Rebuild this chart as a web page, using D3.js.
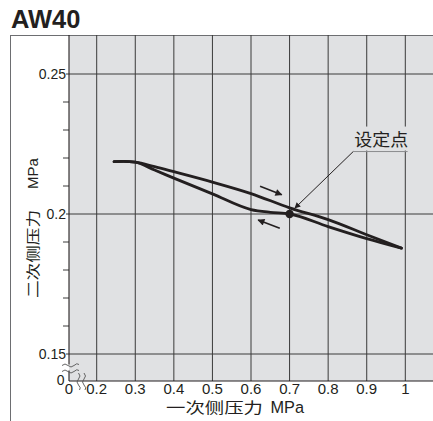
<!DOCTYPE html>
<html><head><meta charset="utf-8">
<script src="https://cdn.jsdelivr.net/npm/d3@7"></script>
<style>
html,body{margin:0;padding:0;background:#fff;}
svg{display:block;}
text{font-family:"Liberation Sans","Noto Sans CJK SC",Arial,sans-serif;fill:#231f20;}
</style></head>
<body>
<script>
// ---- data ----
const title = "AW40";
const xTicks = [0, 0.2, 0.3, 0.4, 0.5, 0.6, 0.7, 0.8, 0.9, 1];
const xTickLabels = ["0", "0.2", "0.3", "0.4", "0.5", "0.6", "0.7", "0.8", "0.9", "1"];
const yMajor = [0.15, 0.2, 0.25];
const yMajorLabels = ["0.15", "0.2", "0.25"];
const yMinor = [0.16, 0.17, 0.18, 0.19, 0.21, 0.22, 0.23, 0.24];
const xTitleCJK = "一次侧压力", xTitleUnit = "MPa";
const yTitleCJK = "二次侧压力", yTitleUnit = "MPa";
// increasing primary pressure (upper branch)
const upX = [0.245, 0.27, 0.3, 0.35, 0.4, 0.5, 0.6, 0.7, 0.8, 0.9, 0.99];
const upY = [0.2187, 0.2188, 0.2185, 0.2169, 0.2151, 0.2114, 0.2073, 0.2022, 0.1980, 0.1926, 0.1878];
// decreasing primary pressure (lower branch)
const downX = [0.245, 0.27, 0.3, 0.35, 0.4, 0.5, 0.6, 0.65, 0.7, 0.8, 0.9, 0.99];
const downY = [0.2187, 0.2188, 0.2185, 0.2157, 0.2128, 0.2072, 0.2016, 0.2006, 0.2, 0.1955, 0.1912, 0.1878];
const setPoint = {x: 0.7, y: 0.2, label: "设定点"};
const dirArrows = [
  {x1: 0.6235, y1: 0.2099, x2: 0.6797, y2: 0.2069},
  {x1: 0.6746, y1: 0.1949, x2: 0.6184, y2: 0.1979}
];
const leader = {x1: 0.865, y1: 0.2223, x2: 0.7137, y2: 0.2021, ux2: 1.006};

// ---- layout ----
const W = 433, H = 421;
const plotL = 69, plotT = 35, plotB = 381, plotR = 433;
const x = d3.scaleLinear().domain([0, 0.2, 1]).range([plotL, 96.7, 405.3]);
const y = d3.scaleLinear().domain([0, 0.15, 0.25]).range([plotB, 354, 74]);

const svg = d3.select("body").append("svg").attr("width", W).attr("height", H);

// outer frame
svg.append("line").attr("x1", 10.5).attr("x2", 10.5).attr("y1", plotT).attr("y2", H)
  .attr("stroke", "#6d6e71").attr("stroke-width", 1);
svg.append("line").attr("x1", 10).attr("x2", W).attr("y1", plotT + 0.5).attr("y2", plotT + 0.5)
  .attr("stroke", "#6d6e71").attr("stroke-width", 1);

// title
svg.append("text").attr("x", 11).attr("y", 28).attr("font-size", 25.5).attr("font-weight", "bold").text(title);

// plot background
svg.append("rect").attr("x", plotL).attr("y", plotT + 1).attr("width", plotR - plotL).attr("height", plotB - plotT - 1)
  .attr("fill", "#e0e1e3");

const grid = svg.append("g").attr("stroke", "#3a3a3a").attr("stroke-width", 1);
grid.selectAll("line.v").data(xTicks.filter(d => d > 0)).join("line")
  .attr("x1", d => x(d)).attr("x2", d => x(d)).attr("y1", plotT).attr("y2", plotB);
grid.selectAll("line.h").data(yMajor).join("line")
  .attr("x1", plotL - 3).attr("x2", plotR).attr("y1", d => y(d)).attr("y2", d => y(d));
grid.selectAll("line.m").data(yMinor).join("line")
  .attr("x1", plotL - 6).attr("x2", plotL).attr("y1", d => y(d)).attr("y2", d => y(d));

// axes
const ax = svg.append("g").attr("stroke", "#231f20").attr("stroke-width", 1.1).attr("fill", "none");
ax.append("line").attr("x1", plotL).attr("x2", plotL).attr("y1", plotT).attr("y2", 364.5);
ax.append("line").attr("x1", plotL).attr("x2", plotL).attr("y1", 370.5).attr("y2", plotB);
ax.append("line").attr("x1", plotL).attr("x2", plotR).attr("y1", plotB).attr("y2", plotB);

// break marks
const brk = svg.append("g").attr("stroke", "#555").attr("stroke-width", 0.9).attr("fill", "none");
[364.5, 370.5].forEach(yy => {
  brk.append("path").attr("d", `M${plotL-7},${yy+1} q3,-3 6,0 t6,0 t5,-1`);
});
[79.5, 85].forEach(xx => {
  brk.append("path").attr("d", `M${xx-1},${plotB-8} q3,3 0,6 t0,6 t1,5`);
});

// curves
const line = d3.line().x(d => x(d[0])).y(d => y(d[1])).curve(d3.curveMonotoneX);
const curveG = svg.append("g").attr("fill", "none").attr("stroke", "#231f20").attr("stroke-width", 2.8)
  .attr("stroke-linecap", "round").attr("stroke-linejoin", "round");
curveG.append("path").attr("d", line(upX.map((v, i) => [v, upY[i]])));
curveG.append("path").attr("d", line(downX.map((v, i) => [v, downY[i]])));

// set point dot
svg.append("circle").attr("cx", x(setPoint.x)).attr("cy", y(setPoint.y)).attr("r", 4.2).attr("fill", "#231f20");

// arrow markers
const defs = svg.append("defs");
defs.append("marker").attr("id", "ah").attr("viewBox", "0 0 10 10").attr("refX", 9).attr("refY", 5)
  .attr("markerWidth", 7).attr("markerHeight", 6).attr("markerUnits", "userSpaceOnUse").attr("orient", "auto")
  .append("path").attr("d", "M0,0 L10,5 L0,10 Z").attr("fill", "#231f20");
defs.append("marker").attr("id", "ah2").attr("viewBox", "0 0 10 10").attr("refX", 9).attr("refY", 5)
  .attr("markerWidth", 9).attr("markerHeight", 7).attr("markerUnits", "userSpaceOnUse").attr("orient", "auto")
  .append("path").attr("d", "M0,0 L10,5 L0,10 Z").attr("fill", "#231f20");

svg.selectAll("line.dir").data(dirArrows).join("line")
  .attr("x1", d => x(d.x1)).attr("y1", d => y(d.y1)).attr("x2", d => x(d.x2)).attr("y2", d => y(d.y2))
  .attr("stroke", "#231f20").attr("stroke-width", 1.6).attr("marker-end", "url(#ah2)");

// label box + leader
const lx = x(leader.x1), ly = y(leader.y1);
svg.append("rect").attr("x", lx - 3).attr("y", ly - 25).attr("width", x(leader.ux2) - lx + 5).attr("height", 24)
  .attr("fill", "#e0e1e3");
svg.append("line").attr("x1", lx).attr("y1", ly).attr("x2", x(leader.ux2)).attr("y2", ly)
  .attr("stroke", "#8a8b8d").attr("stroke-width", 1);
svg.append("line").attr("x1", lx).attr("y1", ly).attr("x2", x(leader.x2)).attr("y2", y(leader.y2))
  .attr("stroke", "#231f20").attr("stroke-width", 1).attr("marker-end", "url(#ah)");
svg.append("text").attr("x", lx + 1).attr("y", ly - 5.5).attr("font-size", 16.5)
  .attr("textLength", 54).attr("lengthAdjust", "spacingAndGlyphs").text(setPoint.label);

// tick labels
svg.selectAll("text.xt").data(xTicks).join("text")
  .attr("x", d => x(d)).attr("y", 394).attr("text-anchor", "middle").attr("font-size", 15)
  .text((d, i) => xTickLabels[i]);
svg.selectAll("text.yt").data(yMajor).join("text")
  .attr("x", 66).attr("y", d => y(d)).attr("dy", "0.35em").attr("text-anchor", "end").attr("font-size", 14)
  .text((d, i) => yMajorLabels[i]);
svg.append("text").attr("x", 64.5).attr("y", y(0)).attr("dy", "0.3em").attr("text-anchor", "end").attr("font-size", 14).text("0");

// axis titles
const xt = svg.append("text").attr("x", 166).attr("y", 413);
xt.append("tspan").attr("font-size", 15).attr("textLength", 97).attr("lengthAdjust", "spacingAndGlyphs").text(xTitleCJK);
xt.append("tspan").attr("font-size", 16.3).attr("dx", 3).text(" " + xTitleUnit);

svg.append("text").attr("transform", "translate(37.5,298) rotate(-90)")
  .attr("font-size", 14).attr("textLength", 88).attr("lengthAdjust", "spacingAndGlyphs").text(yTitleCJK);
svg.append("text").attr("transform", "translate(37.5,189) rotate(-90)")
  .attr("font-size", 15).text(yTitleUnit);
</script>
</body></html>
